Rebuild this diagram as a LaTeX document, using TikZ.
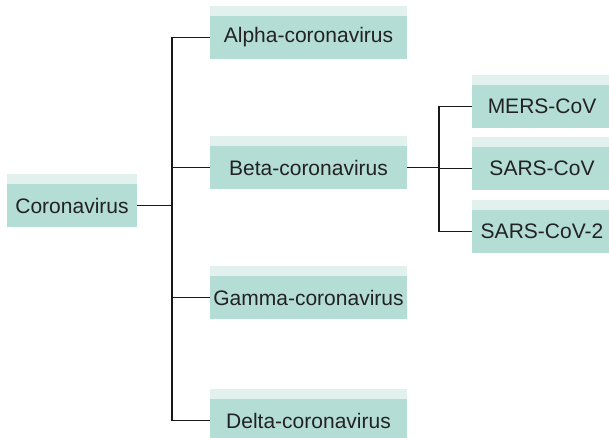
\documentclass[tikz,border=0pt]{standalone}
\usepackage{fontspec}
\setmainfont{Liberation Sans}
\definecolor{boxbody}{HTML}{B3DDD5}
\definecolor{boxtop}{HTML}{E3F1EE}
\definecolor{inkgray}{HTML}{222222}
\tikzset{
  taxon/.style={fill=boxbody, text=inkgray, inner sep=0pt, minimum height=43pt,
    font=\fontsize{21}{25}\selectfont},
  genus/.style={taxon, minimum width=197pt},
  species/.style={taxon, minimum width=140pt},
  link/.style={draw=black!90, line width=1.8pt},
}
\begin{document}
\begin{tikzpicture}[x=1pt, y=-1pt]
  \clip (0,0) rectangle (609,438);
  \def\strip{10pt}

  % family
  \node[taxon, minimum width=130pt] (cor) at (72,205.5) {Coronavirus};

  % genera
  \node[genus] (alpha) at (308.5,37.5)  {Alpha-coronavirus};
  \node[genus] (beta)  at (308.5,167.5) {Beta-coronavirus};
  \node[genus] (gamma) at (308.5,297.5) {Gamma-coronavirus};
  \node[genus] (delta) at (308.5,420.5) {Delta-coronavirus};

  % species of beta
  \node[species] (mers)  at (542,106.5) {MERS-CoV};
  \node[species] (sars)  at (542,168.5) {SARS-CoV};
  \node[species] (sars2) at (542,231.5) {SARS-CoV-2};

  % pale band on top of every box
  \foreach \n in {cor,alpha,beta,gamma,delta,mers,sars,sars2}
    \fill[boxtop] (\n.north west) rectangle ([yshift=\strip]\n.north east);

  % tree lines
  \coordinate (trunk) at (172,0);
  \coordinate (branch) at (439,0);
  \draw[link] (cor.east) -- (cor.east -| trunk);
  \draw[link] (trunk |- alpha.west) -- (trunk |- delta.west);
  \foreach \g in {alpha,beta,gamma,delta}
    \draw[link] (trunk |- \g.west) -- (\g.west);

  \draw[link] (beta.east) -- (beta.east -| branch);
  \draw[link] (branch |- mers.west) -- (branch |- sars2.west);
  \foreach \s in {mers,sars,sars2}
    \draw[link] (branch |- \s.west) -- (\s.west);
\end{tikzpicture}
\end{document}
